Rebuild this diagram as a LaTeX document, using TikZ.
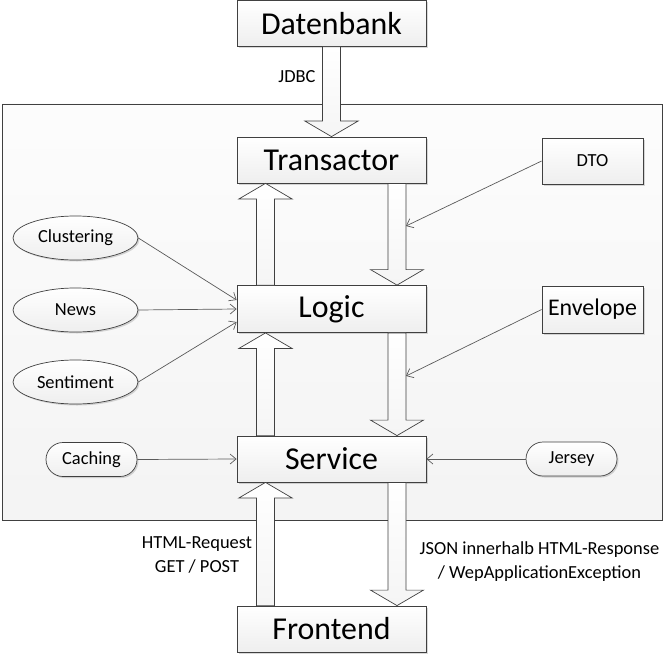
\documentclass[tikz,border=0pt]{standalone}
\usepackage{fontspec}
\setmainfont{Carlito}
\usetikzlibrary{arrows.meta,shapes.geometric,shadows,calc}
\definecolor{edgec}{HTML}{404040}
\definecolor{thinc}{HTML}{5A5A5A}
\newcommand\blockarr[2]{%
  \path[blk] let \p1=(#1), \p2=(#2), \n1={sign(\y2-\y1)} in
    (\x1-9bp,\y1) -- (\x1-9bp,\y2-\n1*15.5bp) -- (\x1-26.5bp,\y2-\n1*15.5bp)
    -- (\x2,\y2) -- (\x1+26.5bp,\y2-\n1*15.5bp) -- (\x1+9bp,\y2-\n1*15.5bp)
    -- (\x1+9bp,\y1) -- cycle;}
\begin{document}
\begin{tikzpicture}[x=1bp,y=-1bp,
  shad/.style={drop shadow={shadow xshift=1.5bp,shadow yshift=-1.5bp,fill=black,opacity=0.15}},
  box/.style={draw=edgec,line width=0.8bp,top color=white,bottom color=gray!13,shad,
    inner sep=0pt,minimum height=46bp,minimum width=189bp,font=\fontsize{32}{36}\selectfont},
  sbox/.style={box,minimum width=101bp,font=\fontsize{18.5}{22}\selectfont},
  ell/.style={ellipse,draw=edgec,line width=0.7bp,top color=white,bottom color=gray!13,shad,
    inner sep=0pt,minimum width=125bp,minimum height=44bp,font=\fontsize{18.5}{22}\selectfont},
  pill/.style={rectangle,rounded corners=17bp,draw=edgec,line width=0.7bp,top color=white,bottom color=gray!13,shad,
    inner sep=0pt,minimum width=91bp,minimum height=34bp,font=\fontsize{18.5}{22}\selectfont},
  blk/.style={draw=edgec,line width=0.7bp,top color=white,bottom color=gray!8},
  conn/.style={draw=thinc,line width=0.7bp,-{Straight Barb[length=6bp,width=10bp]}},
  lbl/.style={font=\fontsize{18.5}{24}\selectfont,align=center,inner sep=0pt}]
\useasboundingbox (0,0) rectangle (665,655);
% container
\path[draw=edgec,line width=0.8bp,top color=gray!2,bottom color=gray!9] (2,104) rectangle (662,520);
% main boxes
\node[box] (db) at (331.5,23.5) {Datenbank};
\node[box] (tr) at (331.5,160) {Transactor};
\node[box,minimum height=47bp] (lg) at (331.5,309) {Logic};
\node[box] (sv) at (331.5,459) {Service};
\node[box] (fe) at (331.5,629) {Frontend};
% side boxes
\node[sbox] (dto) at (592.5,161) {DTO};
\node[sbox,minimum height=47bp,font=\fontsize{24}{28}\selectfont] (env) at (592.5,309.5) {Envelope};
\node[pill] (jer) at (571.5,459) {Jersey};
\node[pill] (cac) at (91.5,459.5) {Caching};
\node[ell] (clu) at (75.5,238) {Clustering};
\node[ell] (new) at (75.5,310) {News};
\node[ell] (sen) at (75.5,382) {Sentiment};
% block arrows
\blockarr{db.south}{tr.north}
\blockarr{$(lg.north)+(-66,0)$}{$(tr.south)+(-66,0)$}
\blockarr{$(tr.south)+(65.5,0)$}{$(lg.north)+(65.5,0)$}
\blockarr{$(sv.north)+(-66,0)$}{$(lg.south)+(-66,0)$}
\blockarr{$(lg.south)+(65.5,0)$}{$(sv.north)+(65.5,0)$}
\blockarr{$(fe.north)+(-66,0)$}{$(sv.south)+(-66,0)$}
\blockarr{$(sv.south)+(65.5,0)$}{$(fe.north)+(65.5,0)$}
% thin connectors
\coordinate (dtoend) at (406,226);
\coordinate (envend) at (406,376);
\draw[conn] (dto.west) -- (dtoend);
\draw[conn] (env.west) -- (envend);
\draw[conn] (clu.east) -- ($(lg.west)+(0,-9)$);
\draw[conn] (new.east) -- (lg.west);
\draw[conn] (sen.east) -- ($(lg.west)+(0,13)$);
\draw[conn] (cac.east) -- (sv.west);
\draw[conn] (jer.west) -- (sv.east);
% labels
\node[lbl] (jdbc) at (297,77) {JDBC};
\node[lbl] (req) at (197,555) {HTML-Request\\GET / POST};
\node[lbl] (resp) at (539.5,562) {JSON innerhalb HTML-Response\\/ WepApplicationException};
\end{tikzpicture}
\end{document}
